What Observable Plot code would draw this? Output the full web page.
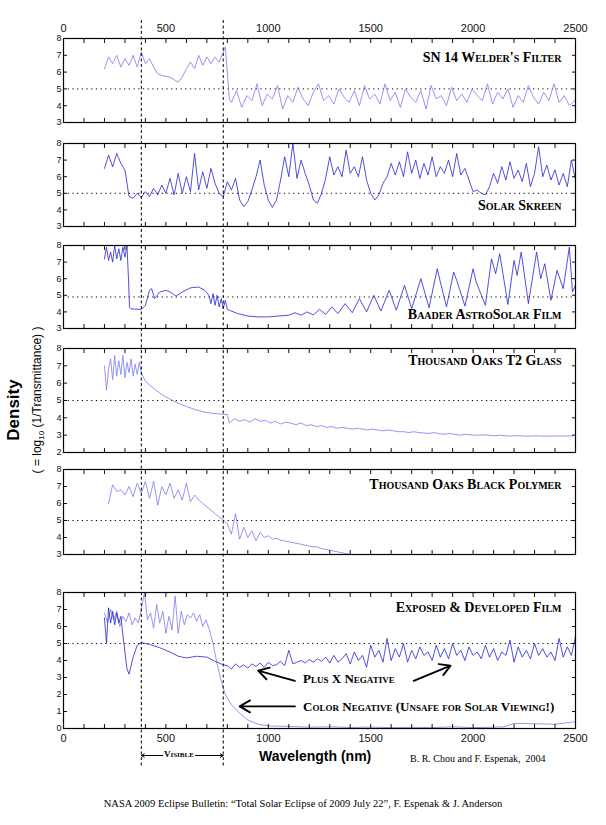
<!DOCTYPE html>
<html><head><meta charset="utf-8">
<script src="https://cdn.jsdelivr.net/npm/d3@7"></script>
<script src="https://cdn.jsdelivr.net/npm/@observablehq/plot@0.6"></script>
<style>
body{margin:0;background:#fff;}
#wrap{position:relative;width:606px;height:825px;overflow:hidden;}
#wrap>div{position:absolute;left:0;}
.t{position:absolute;white-space:nowrap;}
</style></head><body>
<div id="wrap"></div>
<script>
const LIGHT = "#7b7bf0", DARK = "#2424d6";
// ---- data ----
const welderVis = [6.2,6.9,6.5,7.0,6.3,6.8,6.4,7.0,6.3,7.2,6.5,6.8,6.3,5.9,5.8,5.75,5.7,5.55,5.4,5.7,6.2,6.6,6.2,7.0,6.4,6.9,6.5,6.9,6.6,7.2]; // 200..780 step 20
const welderJump = [[790,7.5],[800,6.0],[810,4.4]];
const welderIR = [4.2,4.9,3.9,4.6,4.3,5.3,4.0,4.7,4.4,5.2,3.8,4.6,4.2,5.1,4.4,4.0,4.8,5.3,4.3,4.6,4.1,5.0,4.5,4.2,4.9,4.0,5.2,4.4,4.7,4.1,5.3,4.3,4.8,3.9,5.0,4.5,4.2,4.9,3.8,5.2,4.4,4.6,4.0,5.1,4.3,4.7,4.2,5.0,4.6,4.3,5.3,4.1,4.8,4.4,5.0,3.9,4.6,4.2,5.2,4.5,4.1,4.8,4.3,5.3,4.2,4.6,4.0,4.3]; // 820.. step 25
const skreen = [6.5,7.3,6.6,7.4,6.8,6.4,4.8,
4.7,5.0,4.75,5.1,4.8,5.3,4.9,5.5,5.0,5.9,4.9,6.2,5.0,6.0,5.1,7.4,5.2,6.3,5.3,6.5,5.6,5.0,4.8,
5.7,5.2,5.9,4.6,4.2,4.5,5.2,6.0,7.0,5.5,4.6,4.15,4.6,5.8,7.2,6.0,8.0,5.9,7.0,6.2,5.5,4.6,4.4,5.0,5.9,7.2,6.1,6.6,6.0,7.6,6.2,6.6,6.0,7.2,5.8,5.0,4.6,4.9,5.6,6.0,6.8,6.1,6.9,6.0,7.5,6.2,7.0,5.9,6.8,6.1,7.2,6.0,6.6,6.2,7.0,6.0,7.4,6.1,6.5,5.8,5.1,5.2,5.0,4.9,5.4,6.2,5.6,6.6,5.8,6.9,5.9,6.4,5.7,6.8,5.4,6.2,7.8,6.0,6.7,5.8,6.4,5.5,6.2,5.4,7.0,5.8]; // 200.. step 20
const baaderUV = [7.2,7.9,7.1,7.6,7.0,8.0,7.2,7.8,7.1,7.9,7.3,8.0]; // 200..310 step 10
const baaderRest = [[318,5.8],[322,4.3],[330,4.18],[380,4.15],[400,4.4],[420,5.3],[430,5.4],[445,4.8],[470,5.2],[500,5.3],[520,5.2],[550,4.95],[580,5.2],[620,5.45],[660,5.5],[690,5.3],[710,5.0],[720,4.5],[730,5.1],[740,4.4],[750,5.0],[760,4.3],[770,4.8],[780,4.2],[790,4.7],[800,4.15],[850,3.9],[900,3.75],[950,3.7],[1000,3.7],[1050,3.75],[1100,3.8],
[1130,3.95],[1160,3.8],[1190,4.0],[1220,3.82],[1250,4.15],[1280,3.85],[1310,4.3],[1340,3.9],[1375,4.5],[1410,3.95],[1445,4.8],[1480,4.0],[1515,5.0],[1550,4.05],[1590,5.3],[1625,4.1],[1665,5.6],[1700,4.2],[1745,6.0],[1785,4.25],[1825,6.6],[1840,5.8],[1870,4.3],[1905,6.4],[1920,5.9],[1960,4.35],[2000,6.6],[2015,5.8],[2060,4.4],[2090,7.2],[2110,6.3],[2130,7.5],[2170,4.45],[2200,7.1],[2215,6.2],[2235,7.6],[2270,4.5],[2310,7.6],[2330,6.0],[2350,6.9],[2380,4.7],[2410,6.5],[2440,5.4],[2470,7.9],[2485,5.2],[2500,5.6]];
const t2Vis = [7.0,5.6,6.8,7.4,6.2,7.6,6.4,7.3,6.5,7.6,6.3,7.2,6.6,7.4,6.4,7.1,6.5,7.2,6.6]; // 200..380 step 10
const t2Smooth = [[400,6.1],[450,5.6],[500,5.2],[550,4.9],[600,4.65],[650,4.45],[700,4.3],[780,4.2],[800,4.2]];
const t2IR = [3.7,3.95,3.8,3.9,3.75,3.95,3.8,3.85,3.7,3.8,3.65,3.75,3.7,3.6,3.7,3.55,3.6,3.5,3.55,3.45,3.5,3.4,3.45,3.4,3.35,3.4,3.35,3.3,3.35,3.3,3.25,3.3,3.25,3.2,3.2,3.15,3.2,3.15,3.12,3.1,3.15,3.08,3.05,3.1,3.05,3.0,3.05,3.02,3.0,3.0,3.02,2.98,2.97,3.0,2.96,2.95,2.97,2.96,2.94,2.95,2.96,2.95,2.94,2.95,2.95,2.95,2.96,2.95]; // 810.. step 25
const polyVis = [6.0,7.1,6.7,6.8,6.5,7.0,6.4,7.2,6.6,7.3,6.3,7.3,5.9,7.0,6.5,7.2,6.3,6.8,6.2,7.2,6.1,6.5,6.2,6.0,5.8,5.6,5.4,5.2,5.05]; // 220.. step 20
const polyIR = [4.8,4.2,5.4,3.9,4.6,4.0,4.4,3.8,4.3,4.0,4.1,3.9,3.95,3.85,3.8,3.75,3.7,3.65,3.6,3.55,3.5,3.45,3.45,3.35,3.3,3.25,3.2,3.15,3.1,3.05,3.0]; // 800..1400 step 20
const plusxUV = [6.5,5.0,7.1,6.2,6.9,6.1,6.8,6.2,6.6,5.5,4.5,3.5,3.2]; // 200..320 step 10
const plusxVis = [[340,4.2],[360,4.9],[380,5.05],[420,4.95],[470,4.75],[520,4.5],[560,4.25],[600,4.15],[650,4.25],[700,4.2],[740,3.95],[780,3.75]];
const plusxIR = [3.7,3.5,3.8,3.6,3.75,3.55,3.8,3.65,3.85,3.6,3.9,3.7,3.75,3.95,3.7,4.6,3.8,3.9,4.0,3.85,4.05,3.9,4.1,3.95,4.2,3.85,4.3,3.9,4.1,4.4,3.8,4.5,4.0,4.3,3.6,4.9,4.2,4.6,3.9,5.3,4.0,4.7,4.2,5.0,3.9,4.6,4.1,4.8,4.3,4.5,4.0,4.9,4.2,4.7,4.1,5.0,4.3,4.6,4.0,4.8,4.3,4.5,4.1,4.9,4.2,4.7,4.0,4.5,4.3,5.2,3.9,4.8,4.2,4.6,4.1,5.0,4.3,4.7,4.2,4.5,4.0,5.3,4.2,4.8,4.3,5.4]; // 800.. step 20
const colorVis = [6.8,6.2,7.0,6.4,6.9,6.0,6.6,6.3,6.8,6.1,6.5,6.2,7.0,8.0,6.4,6.8,5.9,7.3,6.2,6.9,5.6,6.6,5.8,7.8,5.6,6.9,6.1,6.7,6.5,6.8,6.3,6.7,6.0,6.4,5.9]; // 200.. step 15
const colorIR = [[730,5.0],[750,3.8],[770,2.8],[790,2.0],[820,1.4],[860,0.9],[900,0.5],[950,0.25],[1000,0.15],[1100,0.12],[1200,0.08],[1300,0.1],[1400,0.06],[1500,0.08],[1600,0.05],[1700,0.07],[1800,0.05],[1900,0.1],[2000,0.05],[2100,0.08],[2150,0.1],[2200,0.3],[2300,0.28],[2400,0.25],[2500,0.4]];
const xTicks = [0,500,1000,1500,2000,2500];

const seg = (x0,dx,v) => v.map((y,i)=>({x:x0+i*dx,y}));
const pr = a => a.map(([x,y])=>({x,y}));
const fmt = d3.format("d");

const wrap = document.getElementById("wrap");
const serif = "'Liberation Serif','DejaVu Serif',serif";
const sans = "'Liberation Sans',Arial,sans-serif";

function panel({top,bottom,ymin,lines,title,titleDy,ref=5,topLabels=false,bottomLabels=false,extra=[]}) {
  const mT = topLabels?20:1, mB = bottomLabels?20:1;
  const marks = [
    Plot.ruleY([ref],{stroke:"#000",strokeWidth:1,strokeDasharray:"1.2,3.5"}),
    ...lines.map(([d,c])=>Plot.line(d,{x:"x",y:"y",stroke:c,strokeWidth:0.8,clip:true})),
    Plot.frame({stroke:"#000",strokeWidth:1.2}),
    Plot.axisX({anchor:"top",ticks:d3.range(0,2501,100),tickSize:-4,tickFormat:()=>"",label:null}),
    Plot.axisX({anchor:"bottom",ticks:d3.range(0,2501,100),tickSize:-4,tickFormat:()=>"",label:null}),
    Plot.axisY({anchor:"left",ticks:d3.range(ymin,9),tickSize:-4,tickPadding:6,tickFormat:fmt,label:null,fontSize:9}),
    Plot.axisY({anchor:"right",ticks:d3.range(ymin,9),tickSize:-4,tickFormat:()=>"",label:null}),
    Plot.text([title],{frameAnchor:"top-right",dx:-14,dy:titleDy,text:d=>d,fontFamily:serif,fontWeight:"bold",fontSize:14,fontVariant:"small-caps",fill:"#000"}),
    ...extra
  ];
  if (topLabels) marks.push(Plot.axisX({anchor:"top",ticks:xTicks,tickSize:0,tickPadding:7,tickFormat:fmt,label:null,fontSize:11}));
  if (bottomLabels) marks.push(Plot.axisX({anchor:"bottom",ticks:xTicks,tickSize:0,tickPadding:6,tickFormat:fmt,label:null,fontSize:11}));
  const p = Plot.plot({width:606,height:(bottom-top)+mT+mB,marginLeft:63,marginRight:31,marginTop:mT,marginBottom:mB,
    x:{domain:[0,2500]},y:{domain:[ymin,8]},style:{fontFamily:sans,color:"#111",background:"transparent",overflow:"visible"},marks});
  const d = document.createElement("div"); d.style.top=(top-mT)+"px"; d.appendChild(p); wrap.appendChild(d);
}

panel({top:38,bottom:122,ymin:3,topLabels:true,title:"SN 14 Welder's Filter",titleDy:14,
  lines:[[[...seg(200,20,welderVis),...pr(welderJump),...seg(820,25,welderIR)],LIGHT]]});
panel({top:143,bottom:226,ymin:3,title:"Solar Skreen",titleDy:57,
  lines:[[seg(200,20,skreen),DARK]]});
panel({top:245,bottom:328,ymin:3,ref:4.9,title:"Baader AstroSolar Film",titleDy:64,
  lines:[[[...seg(200,10,baaderUV),...pr(baaderRest)],DARK]]});
panel({top:348,bottom:452,ymin:2,title:"Thousand Oaks T2 Glass",titleDy:7,
  lines:[[[...seg(200,10,t2Vis),...pr(t2Smooth),...seg(810,25,t2IR)],LIGHT]]});
panel({top:469,bottom:554,ymin:3,title:"Thousand Oaks Black Polymer",titleDy:10,
  lines:[[[...seg(220,20,polyVis),...seg(800,20,polyIR)],LIGHT]]});
panel({top:592,bottom:728,ymin:0,bottomLabels:true,title:"Exposed & Developed Film",titleDy:10,
  lines:[[[...seg(200,15,colorVis),...pr(colorIR)],LIGHT],[[...seg(200,10,plusxUV),...pr(plusxVis),...seg(800,20,plusxIR)],DARK]],
  extra:[
    Plot.text(["Plus X Negative"],{x:1170,y:2.9,text:d=>d,textAnchor:"start",fontFamily:serif,fontWeight:"bold",fontSize:13,fontVariant:"small-caps",fill:"#000"}),
    Plot.text(["Color Negative (Unsafe for Solar Viewing!)"],{x:1170,y:1.3,text:d=>d,textAnchor:"start",fontFamily:serif,fontWeight:"bold",fontSize:13,fontVariant:"small-caps",fill:"#000"}),
    Plot.arrow([{x1:1130,y1:2.8,x2:950,y2:3.4},{x1:1710,y1:2.8,x2:1890,y2:3.7},{x1:1130,y1:1.3,x2:860,y2:1.3}],{x1:"x1",y1:"y1",x2:"x2",y2:"y2",stroke:"#000",strokeWidth:1.8,headLength:10})
  ]});

// overlay: visible band markers
const ov = Plot.plot({width:606,height:825,marginLeft:63,marginRight:31,marginTop:0,marginBottom:0,
  x:{domain:[0,2500],axis:null},y:{domain:[825,0],axis:null},style:{background:"transparent"},
  marks:[
    Plot.ruleX([380,780],{y1:20,y2:768,stroke:"#000",strokeWidth:1,strokeDasharray:"3,2.5"}),
    Plot.arrow([{a:580,b:380},{a:580,b:780}],{x1:"a",x2:"b",y1:755,y2:755,stroke:"#000",strokeWidth:1,headLength:5,inset:0}),
  ]});
const od=document.createElement("div");od.style.top="0px";od.style.pointerEvents="none";od.appendChild(ov);wrap.appendChild(od);

function txt(html,css){const e=document.createElement("div");e.className="t";e.innerHTML=html;Object.assign(e.style,css);wrap.appendChild(e);}
txt("V<span style='font-size:7px'>ISIBLE</span>",{left:"163px",top:"749px",fontFamily:serif,fontWeight:"bold",fontSize:"9px",background:"#fff",padding:"0 1px"});
txt("Wavelength (nm)",{left:"259px",top:"748px",fontFamily:sans,fontWeight:"bold",fontSize:"14px"});
txt("B. R. Chou and F. Espenak,&nbsp; 2004",{left:"410px",top:"753px",fontFamily:serif,fontSize:"10px"});
txt("NASA 2009 Eclipse Bulletin: “Total Solar Eclipse of 2009 July 22”, F. Espenak &amp; J. Anderson",{left:"0",width:"606px",textAlign:"center",top:"798px",fontFamily:serif,fontSize:"10.5px"});
txt("Density",{left:"14px",top:"410px",transform:"translate(-50%,-50%) rotate(-90deg)",fontFamily:sans,fontWeight:"bold",fontSize:"17px"});
txt("( = log<sub style='font-size:8px'>10</sub> (1/Transmittance) )",{left:"38px",top:"400px",transform:"translate(-50%,-50%) rotate(-90deg)",fontFamily:sans,fontSize:"12px"});
</script></body></html>
